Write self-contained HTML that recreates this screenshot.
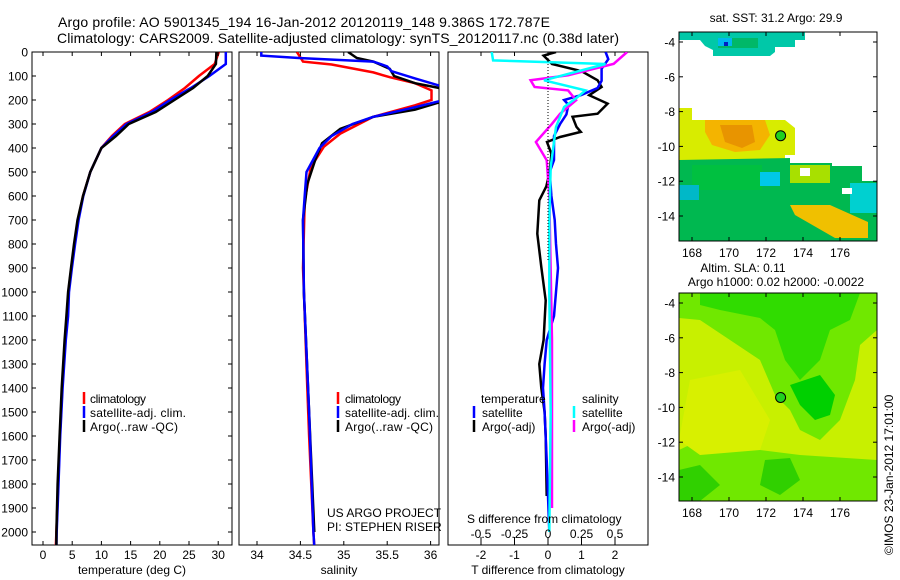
<!DOCTYPE html>
<html><head><meta charset="utf-8"><style>
body{margin:0;background:#fff;}
svg{display:block;font-family:"Liberation Sans",sans-serif;}
text{font-size:12px;fill:#000;}
</style></head><body>
<svg id="fig" width="900" height="580" viewBox="0 0 900 580">
<defs>
<clipPath id="c1"><rect x="32" y="52" width="200" height="493"/></clipPath>
<clipPath id="c2"><rect x="239" y="52" width="200" height="493"/></clipPath>
<clipPath id="c3"><rect x="448" y="52" width="200" height="493"/></clipPath>
<clipPath id="m1"><rect x="679" y="32" width="198" height="209"/></clipPath>
<clipPath id="m2"><rect x="679" y="293" width="198" height="208"/></clipPath>
</defs>
<text x="58" y="27" textLength="492" style="font-size:14px">Argo profile: AO 5901345_194 16-Jan-2012 20120119_148 9.386S 172.787E</text>
<text x="57" y="43" textLength="562" style="font-size:14px">Climatology: CARS2009. Satellite-adjusted climatology: synTS_20120117.nc (0.38d later)</text>

<rect x="32" y="52" width="200" height="493" fill="none" stroke="#000"/>
<rect x="239" y="52" width="200" height="493" fill="none" stroke="#000"/>
<rect x="448" y="52" width="200" height="493" fill="none" stroke="#000"/>
<g id="axes"></g>
<g id="series"></g>
<line x1="548" y1="52" x2="548" y2="260" stroke="#000" stroke-dasharray="1,2"/>

<g>
<line x1="84" y1="392" x2="84" y2="404" stroke="#f00" stroke-width="2.5"/><text x="90" y="403" textLength="56">climatology</text>
<line x1="84" y1="406" x2="84" y2="418" stroke="#00f" stroke-width="2.5"/><text x="90" y="417" textLength="96">satellite-adj. clim.</text>
<line x1="84" y1="420" x2="84" y2="432" stroke="#000" stroke-width="2.5"/><text x="90" y="431" textLength="88">Argo(..raw -QC)</text>
</g>
<g>
<line x1="338" y1="392" x2="338" y2="404" stroke="#f00" stroke-width="2.5"/><text x="345" y="403" textLength="56">climatology</text>
<line x1="338" y1="406" x2="338" y2="418" stroke="#00f" stroke-width="2.5"/><text x="345" y="417" textLength="94">satellite-adj. clim.</text>
<line x1="338" y1="420" x2="338" y2="432" stroke="#000" stroke-width="2.5"/><text x="345" y="431" textLength="88">Argo(..raw -QC)</text>
</g>
<g>
<text x="481" y="403">temperature</text><text x="582" y="403">salinity</text>
<line x1="474" y1="406" x2="474" y2="418" stroke="#00f" stroke-width="2.5"/><text x="482" y="417">satellite</text>
<line x1="474" y1="420" x2="474" y2="432" stroke="#000" stroke-width="2.5"/><text x="482" y="431">Argo(-adj)</text>
<line x1="574" y1="406" x2="574" y2="418" stroke="#0ff" stroke-width="2.5"/><text x="582" y="417">satellite</text>
<line x1="574" y1="420" x2="574" y2="432" stroke="#f0f" stroke-width="2.5"/><text x="582" y="431">Argo(-adj)</text>
</g>
<text x="327" y="517">US ARGO PROJECT</text>
<text x="327" y="531">PI: STEPHEN RISER</text>
<text x="467" y="523">S difference from climatology</text>
<text x="132" y="574" text-anchor="middle">temperature (deg C)</text>
<text x="339" y="574" text-anchor="middle">salinity</text>
<text x="548" y="574" text-anchor="middle">T difference from climatology</text>

<text x="776" y="22" text-anchor="middle">sat. SST: 31.2 Argo: 29.9</text>
<g clip-path="url(#m1)">
<rect x="679" y="32" width="198" height="209" fill="#fff"/>
<polygon points="679,32 805,32 805,40 795,40 795,47 775,47 775,52 770,56 713,56 713,50 705,46 700,40 679,40" fill="#00c8a8"/>
<rect x="718" y="38" width="40" height="10" fill="#00b868"/><rect x="718" y="38" width="14" height="8" fill="#00b8f0"/><rect x="724" y="42" width="4" height="4" fill="#0020c0"/>
<polygon points="679,108 692,108 692,120 785,120 795,128 795,155 785,155 785,165 679,165" fill="#d8ec00"/>
<polygon points="705,120 765,120 770,135 760,150 735,152 712,145 705,132" fill="#f4b400"/>
<polygon points="720,125 752,125 755,142 742,148 725,142" fill="#e89400"/>
<polygon points="679,160 790,158 790,163 832,163 832,166 862,166 862,181 877,181 877,241 679,241" fill="#00b850"/>
<rect x="692" y="165" width="70" height="25" fill="#00c040"/>
<rect x="790" y="165" width="40" height="18" fill="#a8e000"/>
<polygon points="790,205 830,205 868,222 868,238 835,238 795,215" fill="#f0c000"/>
<rect x="850" y="183" width="27" height="30" fill="#00d0d0"/>
<rect x="760" y="172" width="20" height="14" fill="#00c8e8"/>
<rect x="679" y="185" width="20" height="15" fill="#00b8c8"/>
<rect x="800" y="168" width="10" height="8" fill="#fff"/>
<rect x="842" y="188" width="10" height="6" fill="#fff"/>
</g>
<rect x="679" y="32" width="198" height="209" fill="none" stroke="#000"/>
<circle cx="780.6" cy="135.7" r="5" fill="#20d020" stroke="#000"/>

<text x="743" y="272" text-anchor="middle">Altim. SLA: 0.11</text>
<text x="776" y="286" text-anchor="middle">Argo h1000: 0.02 h2000: -0.0022</text>
<g clip-path="url(#m2)">
<rect x="679" y="293" width="198" height="208" fill="#c8f000"/>
<polygon points="679,293 877,293 877,330 860,345 855,380 840,420 820,440 800,430 790,410 775,395 760,360 730,340 700,320 679,318" fill="#70e800"/>
<polygon points="700,293 860,293 850,320 830,330 820,360 800,380 785,360 775,330 760,318 720,310 700,305" fill="#30dc00"/>
<polygon points="790,385 820,375 835,395 830,415 815,420 800,405" fill="#00d000"/>
<polygon points="679,450 700,440 760,450 800,455 877,460 877,501 679,501" fill="#70e800"/>
<polygon points="679,470 700,465 720,485 700,501 679,501" fill="#30d000"/>
<polygon points="765,460 790,458 800,480 780,495 760,485" fill="#30d000"/>
<polygon points="690,380 740,370 770,420 760,450 700,455 679,440" fill="#d8f000"/>
</g>
<rect x="679" y="293" width="198" height="208" fill="none" stroke="#000"/>
<circle cx="780.6" cy="397.5" r="5" fill="#20d020" stroke="#000"/>
<text transform="translate(893,555) rotate(-90)">©IMOS 23-Jan-2012 17:01:00</text>
</svg>
<script>
const tDepth=[0,50,100,150,200,250,300,350,400,500,600,700,800,900,1000,1100,1200,1400,1600,1800,2000,2060];
const tClim=[30.1,29.4,26.7,24.3,21.4,18.2,14.0,11.8,10.0,8.1,6.85,6.0,5.4,4.85,4.35,4.1,3.8,3.3,2.9,2.6,2.3,2.2];
const tSat=[31.3,31.3,28.5,25.3,21.8,18.6,14.3,12.0,10.0,8.1,6.9,6.1,5.5,4.95,4.45,4.3,3.9,3.35,2.95,2.65,2.35,2.3];
const tArgo=[29.7,29.6,28.2,25.7,22.5,19.3,14.7,12.5,10.0,8.1,6.85,5.9,5.3,4.8,4.3,4.0,3.7,3.2,2.85,2.5,2.3,2.3];
const sClimDepth=[0,40,52,85,105,130,160,200,222,270,340,395,480,620,900,1000,1400,1600,2000,2060];
const sClim=[34.46,34.53,34.86,35.34,35.53,35.82,36.01,36.01,35.82,35.34,34.96,34.77,34.62,34.55,34.53,34.54,34.58,34.6,34.65,34.66];
const sSatDepth=[0,15,25,40,60,80,110,140,165,190,205,230,270,300,350,400,500,600,700,1000,1500,2000,2060];
const sSat=[34.05,34.05,34.48,35.34,35.5,35.55,35.82,36.1,36.3,36.3,36.1,35.82,35.34,35.1,34.86,34.72,34.57,34.55,34.53,34.54,34.6,34.65,34.66];
const sArgoDepth=[0,25,40,70,100,130,150,200,210,240,270,320,380,450,550,700,1000,1500,2000];
const sArgo=[35.05,35.15,35.34,35.53,35.58,35.82,36.1,36.2,36.1,35.82,35.34,34.96,34.75,34.67,34.58,34.53,34.54,34.6,34.66];
const dtSatDepth=[0,30,70,120,150,180,200,220,260,300,350,400,450,500,600,700,800,900,1000,1100,1200,1300,1400,1500,1700,2000];
const dtSat=[1.72,1.8,1.6,1.6,1.48,0.98,0.48,0.61,0.55,0.36,0.18,0.18,0.18,0.05,0.1,0.2,0.24,0.3,0.24,0.18,-0.04,-0.1,-0.15,-0.1,-0.04,0.04];
const dtArgoDepth=[0,15,50,80,118,146,180,215,257,270,312,333,354,375,424,500,560,618,757,896,1035,1200,1300,1400,1500,1600,1850];
const dtArgo=[0.24,-0.13,0.12,1.0,1.48,1.6,1.23,1.78,1.48,0.73,0.85,0.98,0.36,-0.03,0.1,0.05,-0.05,-0.26,-0.32,-0.2,-0.07,-0.13,-0.26,-0.2,-0.1,-0.07,-0.04];
const dsSatDepth=[0,35,50,118,160,188,229,312,479,700,1000,1500,2000];
const dsSat=[-0.42,-0.41,0.43,-0.03,0.28,0.22,0.12,0.06,0.02,0.01,0.01,0.02,0.01];
const dsArgoDepth=[0,49,97,118,146,160,201,257,299,375,451,600,1200,1900];
const dsArgo=[0.59,0.49,0.15,-0.13,-0.1,0.15,0.21,0.09,0.03,-0.09,-0.01,0.01,0.03,0.03];
const depthTicks=[0,100,200,300,400,500,600,700,800,900,1000,1100,1200,1300,1400,1500,1600,1700,1800,1900,2000];
const tTicks=[0,5,10,15,20,25,30];
const sTicks=[34,34.5,35,35.5,36];
const sTickLabels=["34","34.5","35","35.5","36"];
const dtTicks=[-2,-1,0,1,2];
const dsTicks=[-0.5,-0.25,0,0.25,0.5];
const dsTickLabels=["-0.5","-0.25","0","0.25","0.5"];
const latTicks=[-4,-6,-8,-10,-12,-14];
const lonTicks=[168,170,172,174,176];

const NS='http://www.w3.org/2000/svg';
const yD=d=>52+d*0.24;
const xT=v=>43+v*5.84;
const xS=v=>257+(v-34)*86.8;
const xDT=v=>548+v*33.5;
const xDS=v=>548+v*134;
const lonX=v=>692+(v-168)*18.5;
const latY1=v=>42+(-4-v)*17.4;
const latY2=v=>303+(-4-v)*17.4;
const axes=document.getElementById('axes'), series=document.getElementById('series');
function mk(tag,attrs,parent,txt){const e=document.createElementNS(NS,tag);for(const k in attrs)e.setAttribute(k,attrs[k]);if(txt!==undefined)e.textContent=txt;parent.appendChild(e);return e;}

depthTicks.forEach(d=>{
  const y=yD(d);
  const l=mk('line',{x1:32,x2:36,y1:y,y2:y,stroke:'#000'},axes);
  
  
  const r=mk('line',{x1:228,x2:232,y1:y,y2:y,stroke:'#000'},axes);
  
  
  const t=mk('text',{x:28,y:y+4.5,'text-anchor':'end'},axes,String(d));
  
  
});
function xticks(vals,labels,fx,y,ytxt,name,top){
  vals.forEach((v,i)=>{
    const x=fx(v);
    const l=mk('line',{x1:x,x2:x,y1:y,y2:y-4,stroke:'#000'},axes);
    
    
    if(top){const l2=mk('line',{x1:x,x2:x,y1:52,y2:56,stroke:'#000'},axes);
      
      }
    const t=mk('text',{x:x,y:ytxt,'text-anchor':'middle'},axes,labels[i]);
    
    
  });
}
xticks(tTicks,tTicks.map(String),xT,545,559,'temperature',true);
xticks(sTicks,sTickLabels,xS,545,559,'salinity',true);
xticks(dtTicks,dtTicks.map(String),xDT,545,559,'t-diff',true);
xticks(dsTicks,dsTickLabels,xDS,541,538,'s-diff',false);

function line(dep,val,fx,color,clip,name){
  const pts=dep.map((d,i)=>fx(val[i]).toFixed(1)+','+yD(d).toFixed(1)).join(' ');
  const p=mk('polyline',{points:pts,fill:'none',stroke:color,'stroke-width':2.5,'clip-path':'url(#'+clip+')'},series);
  
  
}
line(tDepth,tClim,xT,'#f00','c1','temperature-climatology-line');
line(tDepth,tSat,xT,'#00f','c1','temperature-satellite-line');
line(tDepth,tArgo,xT,'#000','c1','temperature-argo-line');
line(sClimDepth,sClim,xS,'#f00','c2','salinity-climatology-line');
line(sArgoDepth,sArgo,xS,'#000','c2','salinity-argo-line');
line(sSatDepth,sSat,xS,'#00f','c2','salinity-satellite-line');
line(dtArgoDepth,dtArgo,xDT,'#000','c3','t-diff-argo-line');
line(dtSatDepth,dtSat,xDT,'#00f','c3','t-diff-satellite-line');
line(dsArgoDepth,dsArgo,xDS,'#f0f','c3','s-diff-argo-line');
line(dsSatDepth,dsSat,xDS,'#0ff','c3','s-diff-satellite-line');

function mapAxes(fy,top,bottom,name){
  latTicks.forEach(v=>{
    const y=fy(v);
    const l=mk('line',{x1:679,x2:683,y1:y,y2:y,stroke:'#000'},axes);
    
    
    const r=mk('line',{x1:873,x2:877,y1:y,y2:y,stroke:'#000'},axes);
    
    
    const t=mk('text',{x:675,y:y+4.5,'text-anchor':'end'},axes,String(v));
    
    
  });
  lonTicks.forEach(v=>{
    const x=lonX(v);
    const l=mk('line',{x1:x,x2:x,y1:bottom,y2:bottom-4,stroke:'#000'},axes);
    
    
    const l2=mk('line',{x1:x,x2:x,y1:top,y2:top+4,stroke:'#000'},axes);
    
    
    const t=mk('text',{x:x,y:bottom+16,'text-anchor':'middle'},axes,String(v));
    
    
  });
}
mapAxes(latY1,32,241,'sst-map');
mapAxes(latY2,293,501,'sla-map');
document.getElementById('fig').appendChild(axes);
</script>
</body></html>
